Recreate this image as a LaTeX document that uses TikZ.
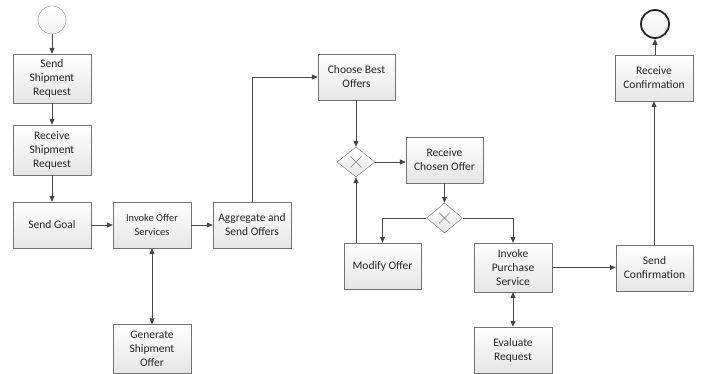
\documentclass[tikz,border=0pt]{standalone}
\usepackage{fontspec}
\setmainfont{Carlito}
\usetikzlibrary{arrows.meta,shapes.geometric,shadows}
\begin{document}
\begin{tikzpicture}[x=1pt,y=-1pt,
  task/.style={draw=black!55, top color=white, bottom color=black!10,
    minimum width=78pt, minimum height=46pt, inner sep=2pt, align=center,
    font=\fontsize{11.5}{14}\selectfont, text=black!85,
    drop shadow={shadow xshift=1.2pt,shadow yshift=-1.2pt,opacity=0.22,fill=black}},
  gw/.style={diamond, draw=black!55, top color=white, bottom color=black!10,
    minimum width=38pt, minimum height=30pt, inner sep=0pt,
    path picture={
      \draw[black!50,line width=0.5pt]
        ([shift={(-5.5pt,-5.5pt)}]path picture bounding box.center) -- ([shift={(5.5pt,5.5pt)}]path picture bounding box.center)
        ([shift={(-5.5pt,5.5pt)}]path picture bounding box.center) -- ([shift={(5.5pt,-5.5pt)}]path picture bounding box.center);}},
  flow/.style={draw=black!72, line width=0.8pt, -{Triangle[length=6pt,width=5pt]}},
  both/.style={draw=black!72, line width=0.8pt, {Triangle[length=6pt,width=5pt]}-{Triangle[length=6pt,width=5pt]}}
]
\useasboundingbox (0,0) rectangle (702,374);

\node[circle, draw=black!50, top color=white, bottom color=black!5, minimum size=28pt, inner sep=0pt] (start) at (52,20) {};
\node[task, minimum height=49pt] (ssr) at (52,78.5) {Send\\Shipment\\Request};
\node[task, minimum height=50pt] (rsr) at (52,150) {Receive\\Shipment\\Request};
\node[task] (goal) at (52,225) {Send Goal};
\node[task, font=\fontsize{10.5}{14}\selectfont] (ios) at (152,225) {Invoke Offer\\Services};
\node[task] (agg) at (252,225) {Aggregate and\\Send Offers};
\node[task, minimum height=49pt] (gen) at (152,349) {Generate\\Shipment\\Offer};
\node[task, minimum width=77pt] (cbo) at (356.5,77) {Choose Best\\Offers};
\node[gw] (gw1) at (356,162) {};
\node[task, minimum width=77pt] (rco) at (444.5,160) {Receive\\Chosen Offer};
\node[gw, minimum width=36pt] (gw2) at (444.5,218) {};
\node[task, minimum width=77pt] (mod) at (382.5,266) {Modify Offer};
\node[task, minimum height=49pt] (ips) at (513,267.5) {Invoke\\Purchase\\Service};
\node[task] (eval) at (513,350) {Evaluate\\Request};
\node[task, minimum width=77pt] (sc) at (654.5,268) {Send\\Confirmation};
\node[task] (rc) at (654,78) {Receive\\Confirmation};
\node[circle, draw=black!85, line width=1.8pt, top color=white, bottom color=black!5, minimum size=28pt, inner sep=0pt] (end) at (655,24) {};

\draw[flow] (start) -- (ssr);
\draw[flow] (ssr) -- (rsr);
\draw[flow] (rsr) -- (goal);
\draw[flow] (goal) -- (ios);
\draw[flow] (ios) -- (agg);
\draw[both] (ios) -- (gen);
\draw[flow] (agg.north) |- (cbo.west);
\draw[flow] (cbo.south -| gw1.north) -- (gw1.north);
\draw[flow] (gw1.east) -- (gw1.east -| rco.west);
\draw[flow] (rco.south -| gw2.north) -- (gw2.north);
\draw[flow] (gw2.west) -| (mod.north);
\draw[flow] (gw2.east) -| (ips.north);
\draw[flow] (mod.north -| gw1.south) -- (gw1.south);
\draw[both] (ips) -- (eval);
\draw[flow] (ips.east) -- (ips.east -| sc.west);
\draw[flow] (sc.north -| rc.south) -- (rc.south);
\draw[flow] (rc.north -| end.south) -- (end.south);
\end{tikzpicture}
\end{document}
